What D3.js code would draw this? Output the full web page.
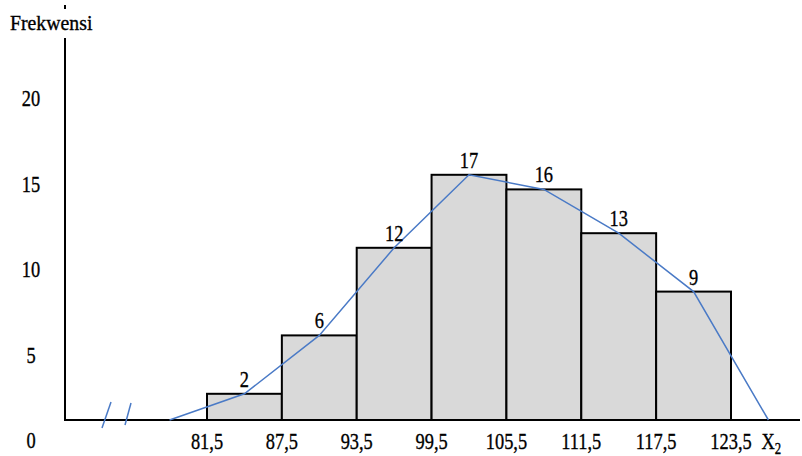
<!DOCTYPE html>
<html>
<head>
<meta charset="utf-8">
<script src="https://cdn.jsdelivr.net/npm/d3@7"></script>
<style>
  html, body { margin: 0; padding: 0; background: #fff; }
  svg { display: block; }
</style>
</head>
<body>
<svg id="chart" width="802" height="456"></svg>
<script>
// ---- data ----
const classEdges = [81.5, 87.5, 93.5, 99.5, 105.5, 111.5, 117.5, 123.5];
const frequencies = [2, 6, 12, 17, 16, 13, 9];
const classMidpoints = [84.5, 90.5, 96.5, 102.5, 108.5, 114.5, 120.5];
const polygonStart = 78.5;
const polygonEnd = 126.5;
const yTickLabels = [0, 5, 10, 15, 20];
const yTitle = "Frekwensi";
const xTitle = "X";
const xTitleSub = "2";

// ---- layout ----
const svg = d3.select("#chart");
const FONT = '"Liberation Serif"';
const axisX = 65, axisY = 420;
const blue = "#4a7ac6";
const sx = 0.8;

const x = d3.scaleLinear().domain([81.5, 123.5]).range([207, 731]);
const y = d3.scaleLinear().domain([0, 20]).range([423, 131]);
const yLab = d3.scaleLinear().domain([0, 20]).range([440, 98]);

const bins = frequencies.map((f, i) => ({ x0: classEdges[i], x1: classEdges[i + 1], f, mid: classMidpoints[i] }));

function addText(parent, tx, ty, str, size, scaleX, anchor) {
  return parent.append("text")
    .attr("transform", `translate(${tx},${ty}) scale(${scaleX},1)`)
    .attr("text-anchor", anchor)
    .style("font-family", FONT)
    .style("font-size", size + "px")
    .style("fill", "#000")
    .style("stroke", "#000")
    .style("stroke-width", "0.35px")
    .text(str);
}

// bars
svg.append("g").selectAll("rect").data(bins).join("rect")
  .attr("x", d => x(d.x0))
  .attr("y", d => y(d.f))
  .attr("width", d => x(d.x1) - x(d.x0))
  .attr("height", d => axisY - y(d.f))
  .attr("fill", "#d9d9d9")
  .attr("stroke", "#000")
  .attr("stroke-width", 2);

// axes lines
svg.append("line").attr("x1", axisX).attr("x2", axisX).attr("y1", 38).attr("y2", axisY + 1)
  .attr("stroke", "#000").attr("stroke-width", 2);
svg.append("line").attr("x1", axisX - 1).attr("x2", 800).attr("y1", axisY).attr("y2", axisY)
  .attr("stroke", "#000").attr("stroke-width", 2);
svg.append("line").attr("x1", axisX).attr("x2", axisX).attr("y1", 5).attr("y2", 9)
  .attr("stroke", "#000").attr("stroke-width", 2);

// break marks
svg.append("line").attr("x1", 102).attr("y1", 428).attr("x2", 111).attr("y2", 402)
  .attr("stroke", blue).attr("stroke-width", 1.5);
svg.append("line").attr("x1", 125).attr("y1", 425).attr("x2", 131).attr("y2", 403)
  .attr("stroke", blue).attr("stroke-width", 1.5);

// frequency polygon
const polyPts = [[polygonStart, 0]].concat(bins.map(d => [d.mid, d.f])).concat([[polygonEnd, 0]]);
const line = d3.line().x(d => x(d[0])).y(d => d[1] === 0 ? axisY : y(d[1]));
svg.append("path").datum(polyPts)
  .attr("d", line)
  .attr("fill", "none")
  .attr("stroke", blue)
  .attr("stroke-width", 1.5);

// value labels
const gv = svg.append("g");
bins.forEach(d => addText(gv, x(d.mid), y(d.f) - 7, d.f, 23, sx, "middle"));

// x axis labels (positions from scale)
const fmt = d => d3.format(".1f")(d).replace(".", ",");
const gx = svg.append("g");
classEdges.forEach(v => addText(gx, x(v), axisY + 29, fmt(v), 23, sx, "middle"));

// X2 title
const xt = addText(svg, x(polygonEnd) + 3, 449, "", 23, sx, "middle");
xt.append("tspan").text(xTitle);
xt.append("tspan").style("font-size", "16px").attr("dy", 5).text(xTitleSub);

// y axis labels
const gy = svg.append("g");
yTickLabels.forEach(v => addText(gy, 31, yLab(v) + 8, v, 23, sx, "middle"));

// y title
addText(svg, 10, 30, yTitle, 22, 0.9, "start");
</script>
</body>
</html>
